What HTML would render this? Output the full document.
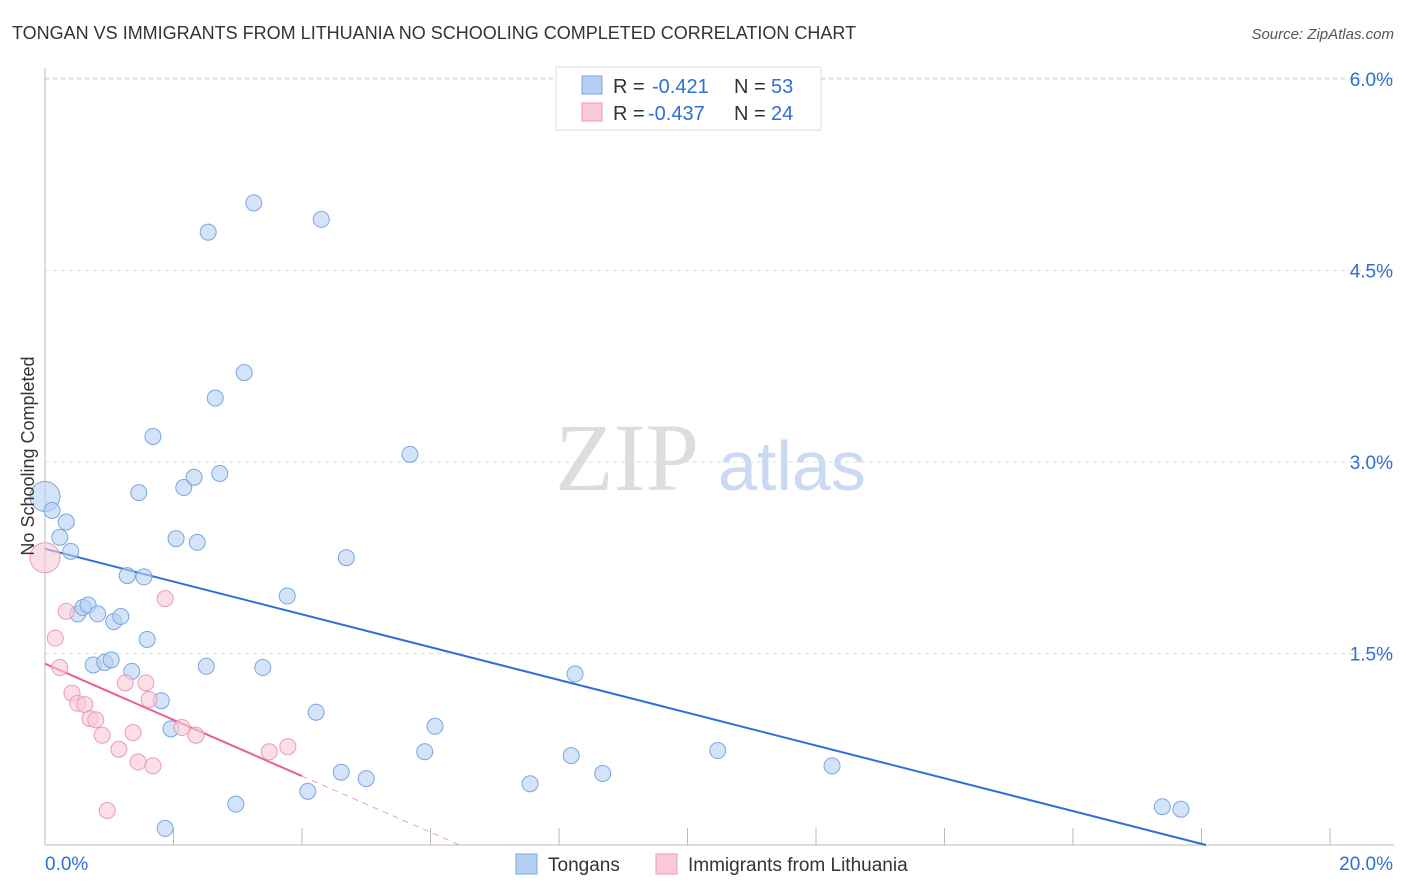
<!DOCTYPE html>
<html><head><meta charset="utf-8"><style>
body{margin:0;background:#fff;font-family:"Liberation Sans",sans-serif;}
svg{display:block}
</style></head><body>
<svg width="1406" height="892" xmlns="http://www.w3.org/2000/svg">
<text x="12" y="39" font-size="18" fill="#333">TONGAN VS IMMIGRANTS FROM LITHUANIA NO SCHOOLING COMPLETED CORRELATION CHART</text>
<text x="1394" y="39" font-size="15" fill="#555" font-style="italic" text-anchor="end">Source: ZipAtlas.com</text>
<g id="grid"></g>
<g id="axes"></g>
<text x="555" y="490" font-size="96" fill="#ddd" font-family="Liberation Serif,serif">ZIP</text>
<text x="718" y="490" font-size="70" fill="#c9daf2">atlas</text>
<g id="lines"></g>
<g id="points"></g>
<text transform="translate(34,456) rotate(-90)" font-size="18" fill="#333" text-anchor="middle">No Schooling Completed</text>
<g>
<rect x="556" y="67" width="265" height="63" fill="#fff" stroke="#ddd"/>
<rect x="582" y="76" width="20" height="18" fill="#b6d0f3" stroke="#7aa6e6"/>
<text x="613" y="93" font-size="20" fill="#333">R =</text>
<text x="652" y="93" font-size="20" fill="#2d6fd6">-0.421</text>
<text x="734" y="93" font-size="20" fill="#333">N =</text>
<text x="771" y="93" font-size="20" fill="#2d6fd6">53</text>
<rect x="582" y="103" width="20" height="18" fill="#f9c9d7" stroke="#ee9ab4"/>
<text x="613" y="120" font-size="20" fill="#333">R =</text>
<text x="648" y="120" font-size="20" fill="#2d6fd6">-0.437</text>
<text x="734" y="120" font-size="20" fill="#333">N =</text>
<text x="771" y="120" font-size="20" fill="#2d6fd6">24</text>
</g>
<g>
<rect x="516" y="854" width="21" height="20" fill="#b6d0f3" stroke="#7aa6e6"/>
<text x="548" y="871" font-size="19" fill="#333">Tongans</text>
<rect x="656" y="854" width="21" height="20" fill="#f9c9d7" stroke="#ee9ab4"/>
<text x="688" y="871" font-size="19" fill="#333">Immigrants from Lithuania</text>
</g>
</svg>
<script>
const xTicks=[0,2,4,6,8,10,12,14,16,18,20];
const yTicks=[1.5,3.0,4.5,6.0];
const yTickLabels=["1.5%","3.0%","4.5%","6.0%"];
const tonganX=[0,0.11,0.23,0.33,0.40,0.51,0.59,0.67,0.82,0.75,0.93,1.03,1.07,1.18,1.35,1.28,1.54,1.46,1.59,1.68,1.81,1.96,1.87,2.04,2.16,2.32,2.37,2.51,2.54,2.65,2.72,2.97,3.10,3.25,3.39,3.77,4.09,4.22,4.30,4.61,4.69,5.00,5.68,5.91,6.07,7.55,8.19,8.25,8.68,10.47,12.25,17.39,17.68];
const tonganY=[2.73,2.62,2.41,2.53,2.30,1.81,1.86,1.88,1.81,1.41,1.43,1.45,1.75,1.79,1.36,2.11,2.10,2.76,1.61,3.20,1.13,0.91,0.13,2.40,2.80,2.88,2.37,1.40,4.80,3.50,2.91,0.32,3.70,5.03,1.39,1.95,0.42,1.04,4.90,0.57,2.25,0.52,3.06,0.73,0.93,0.48,0.70,1.34,0.56,0.74,0.62,0.30,0.28];
const lithX=[0,0.16,0.23,0.33,0.42,0.51,0.62,0.70,0.79,0.89,0.97,1.15,1.25,1.37,1.45,1.57,1.62,1.68,1.87,2.13,2.35,3.49,3.78];
const lithY=[2.25,1.62,1.39,1.83,1.19,1.11,1.10,0.99,0.98,0.86,0.27,0.75,1.27,0.88,0.65,1.27,1.14,0.62,1.93,0.92,0.86,0.73,0.77];
const tonganFit=[2.32,-0.1284];
const lithFit=[1.42,-0.22];
const X=v=>45+v*64.25, Y=v=>845-v*127.67;
const NS="http://www.w3.org/2000/svg";
function mk(tag,attrs,parent){const e=document.createElementNS(NS,tag);for(const k in attrs)e.setAttribute(k,attrs[k]);document.getElementById(parent).appendChild(e);return e;}
for(let i=0;i<yTicks.length;i++){
 const g=mk('line',{x1:45,x2:1394,y1:Y(yTicks[i]),y2:Y(yTicks[i]),stroke:'#ddd','stroke-dasharray':'4,4'},'grid');
 
 
 const t=mk('text',{x:1393,y:Y(yTicks[i])+7,'font-size':19,fill:'#2d6fd6','text-anchor':'end'},'axes');t.textContent=yTickLabels[i];
 
 
}
const topGrid=mk('line',{x1:45,x2:1394,y1:78,y2:78,stroke:'#ddd','stroke-dasharray':'4,4'},'grid');


const ya=mk('line',{x1:45,x2:45,y1:68,y2:845,stroke:'#bbb'},'axes');


const xa=mk('line',{x1:45,x2:1394,y1:845,y2:845,stroke:'#bbb'},'axes');


for(const v of xTicks){if(v===0)continue;const l=mk('line',{x1:X(v),x2:X(v),y1:828,y2:845,stroke:'#bbb'},'axes');
 
 }
let t0=mk('text',{x:45,y:870,'font-size':19,fill:'#2d6fd6'},'axes');t0.textContent=xTicks[0].toFixed(1)+'%';


let t1=mk('text',{x:1393,y:870,'font-size':19,fill:'#2d6fd6','text-anchor':'end'},'axes');t1.textContent=xTicks[xTicks.length-1].toFixed(1)+'%';


const bx2=-tonganFit[0]/tonganFit[1];
const bl=mk('line',{x1:X(0),y1:Y(tonganFit[0]),x2:X(bx2),y2:Y(0),stroke:'#2f6fd9','stroke-width':2},'lines');


const pEnd=4, pz=-lithFit[0]/lithFit[1];
const pl=mk('line',{x1:X(0),y1:Y(lithFit[0]),x2:X(pEnd),y2:Y(lithFit[0]+lithFit[1]*pEnd),stroke:'#e8618c','stroke-width':2},'lines');


const pd=mk('line',{x1:X(pEnd),y1:Y(lithFit[0]+lithFit[1]*pEnd),x2:X(pz),y2:Y(0),stroke:'#eaa0b8','stroke-width':1,'stroke-dasharray':'6,5'},'lines');


for(let i=0;i<tonganX.length;i++){
 const c=mk('circle',{cx:X(tonganX[i]),cy:Y(tonganY[i]),r:i===0?15:8,fill:'#b6d0f3','fill-opacity':0.6,stroke:'#7aa6e6'},'points');
 
 
}
for(let i=0;i<lithX.length;i++){
 const c=mk('circle',{cx:X(lithX[i]),cy:Y(lithY[i]),r:i===0?15:8,fill:'#f9c9d7','fill-opacity':0.6,stroke:'#ee9ab4'},'points');
 
 
}
</script>
</body></html>
